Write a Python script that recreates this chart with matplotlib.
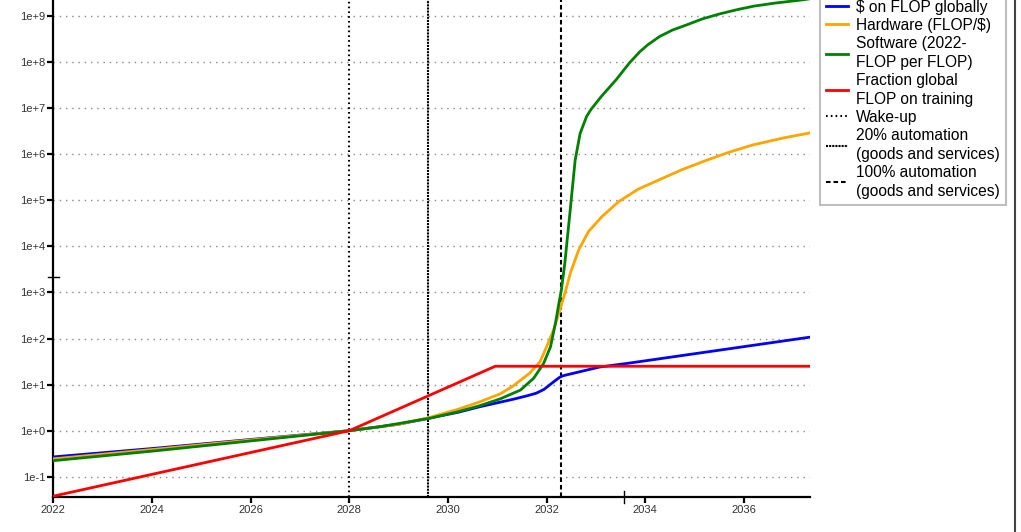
import numpy as np
import matplotlib.pyplot as plt
from matplotlib.lines import Line2D
from matplotlib.ticker import FixedLocator, FuncFormatter
import matplotlib.transforms as mtransforms

plt.rcParams['font.family'] = ['Liberation Sans', 'DejaVu Sans']

# ---- data (values relative to 2028 = 1) ----
blue_years = [2022, 2024, 2026, 2028, 2029, 2029.6, 2030.2, 2030.64, 2031.32, 2031.6,
              2031.79, 2031.95, 2032.06, 2032.18, 2032.27, 2032.33, 2032.4, 2033.07,
              2033.7, 2037.34]
blue_vals = [0.27, 0.41, 0.645, 1.0, 1.38, 1.86, 2.5, 3.3, 4.8, 5.7,
             6.5, 7.9, 9.8, 12.3, 14.5, 15.5, 16.2, 24.0,
             29.5, 107.0]

orange_years = [2022, 2024, 2026, 2028, 2029, 2029.6, 2030.2, 2030.64, 2031.06, 2031.32,
                2031.66, 2031.87, 2032.0, 2032.14, 2032.27, 2032.39, 2032.48, 2032.65,
                2032.85, 2033.12, 2033.46, 2033.86, 2034.34, 2034.74, 2035.22, 2035.7,
                2036.18, 2036.8, 2037.34]
orange_vals = [0.245, 0.39, 0.63, 1.0, 1.38, 1.9, 2.9, 4.2, 6.3, 9.3,
               17.8, 31.6, 66.0, 151.0, 417.0, 1120.0, 2570.0, 8300.0,
               2.09e4, 4.37e4, 9.3e4, 1.74e5, 2.95e5, 4.57e5, 7.2e5, 1.1e6,
               1.58e6, 2.24e6, 2.88e6]

green_years = [2022, 2024, 2026, 2028, 2028.62, 2029.63, 2030.2, 2030.64, 2031.06, 2031.47,
               2031.74, 2031.94, 2032.08, 2032.18, 2032.25, 2032.3, 2032.37, 2032.48,
               2032.58, 2032.68, 2032.81, 2032.9, 2033.11, 2033.41, 2033.68, 2033.89,
               2034.05, 2034.29, 2034.55, 2034.83, 2035.15, 2035.51, 2035.85, 2036.2,
               2036.65, 2037.15, 2037.34]
green_vals = [0.224, 0.36, 0.6, 1.0, 1.22, 1.86, 2.57, 3.47, 4.9, 7.6,
              13.8, 28.8, 66.0, 214.0, 575.0, 1120.0, 4270.0, 6.2e4,
              7.4e5, 2.8e6, 6.5e6, 9.3e6, 1.78e7, 4.1e7, 9.5e7, 1.66e8,
              2.34e8, 3.55e8, 4.9e8, 6.3e8, 8.5e8, 1.1e9, 1.35e9, 1.62e9,
              1.9e9, 2.19e9, 2.34e9]

red_years = [2022, 2028, 2030.96, 2037.34]
red_vals = [0.038, 1.0, 25.0, 25.0]

wakeup_year = 2028.0
auto20_year = 2029.6
auto100_year = 2032.29

xticks = [2022, 2024, 2026, 2028, 2030, 2032, 2034, 2036]
yticks = [1e-1, 1e0, 1e1, 1e2, 1e3, 1e4, 1e5, 1e6, 1e7, 1e8, 1e9]

# stray cursor marks visible in the screenshot
cursor_x = 2033.58
cursor_y = 2.2e3

# ---- figure ----
fig = plt.figure(figsize=(10.21, 5.32), dpi=100)
ax = fig.add_axes([0.0522, 0.0658, 0.7411, 0.9342])

ax.set_yscale('log')
ax.set_xlim(2022, 2037.34)
ax.set_ylim(10 ** -1.438, 10 ** 9.343)

ax.plot(blue_years, blue_vals, color='#0000ff', lw=2.0, label=r'\$ on FLOP globally', zorder=3)
ax.plot(orange_years, orange_vals, color='#ffa500', lw=2.0, label=r'Hardware (FLOP/\$)', zorder=3)
ax.plot(green_years, green_vals, color='#008000', lw=2.0, label='Software (2022-\nFLOP per FLOP)', zorder=3)
ax.plot(red_years, red_vals, color='#ff0000', lw=2.0, label='Fraction global\nFLOP on training', zorder=3)

ax.axvline(wakeup_year, color='black', lw=1.5, ls=(0, (0.8, 1.5)), label='Wake-up', zorder=2)
ax.axvline(auto20_year, color='black', lw=1.5, ls=(0, (1.0, 0.5)),
           label='20% automation\n(goods and services)', zorder=2)
ax.axvline(auto100_year, color='black', lw=1.5, ls=(0, (2.2, 1.4)),
           label='100% automation\n(goods and services)', zorder=2)

# axes styling
for side in ['top', 'right']:
    ax.spines[side].set_visible(False)
for side in ['left', 'bottom']:
    ax.spines[side].set_linewidth(1.6)
    ax.spines[side].set_color('black')

ax.xaxis.set_major_locator(FixedLocator(xticks))
ax.xaxis.set_major_formatter(FuncFormatter(lambda v, p: f"{int(v)}"))
ax.yaxis.set_major_locator(FixedLocator(yticks))
ax.yaxis.set_minor_locator(FixedLocator([]))
ax.yaxis.set_major_formatter(FuncFormatter(lambda v, p: f"1e{int(round(np.log10(v))):+d}"))
ax.tick_params(axis='both', which='major', length=4, width=1.6, color='black',
               labelsize=8, labelcolor='#333333', pad=1.5)

ax.yaxis.grid(True, which='major', color='#8a8a8a', lw=1.0, ls=(0, (1, 3.5)))
ax.set_axisbelow(True)

# cursor marks crossing the axes
tx = mtransforms.blended_transform_factory(ax.transData, ax.transAxes)
ax.plot([cursor_x, cursor_x], [-0.012, 0.012], transform=tx, color='black', lw=1.0, clip_on=False)
ty = mtransforms.blended_transform_factory(ax.transAxes, ax.transData)
ax.plot([-0.007, 0.008], [cursor_y, cursor_y], transform=ty, color='black', lw=1.0, clip_on=False)

leg = fig.legend(loc='upper left', bbox_to_anchor=(820 / 1021, 1.0124),
                 bbox_transform=fig.transFigure, fontsize=11.2, frameon=True,
                 fancybox=False, edgecolor='#b0b0b0', handlelength=1.4,
                 handletextpad=0.5, labelspacing=0.21, borderpad=0.4, borderaxespad=0)
leg.get_frame().set_linewidth(1.5)
for t in leg.get_texts():
    t.set_linespacing(1.3)

# dark panel edge at the right of the screenshot
fig.add_artist(Line2D([1015 / 1021, 1015 / 1021], [0, 1], transform=fig.transFigure,
                      color='#444444', lw=1.5))

fig.savefig('out.png', dpi=100)
